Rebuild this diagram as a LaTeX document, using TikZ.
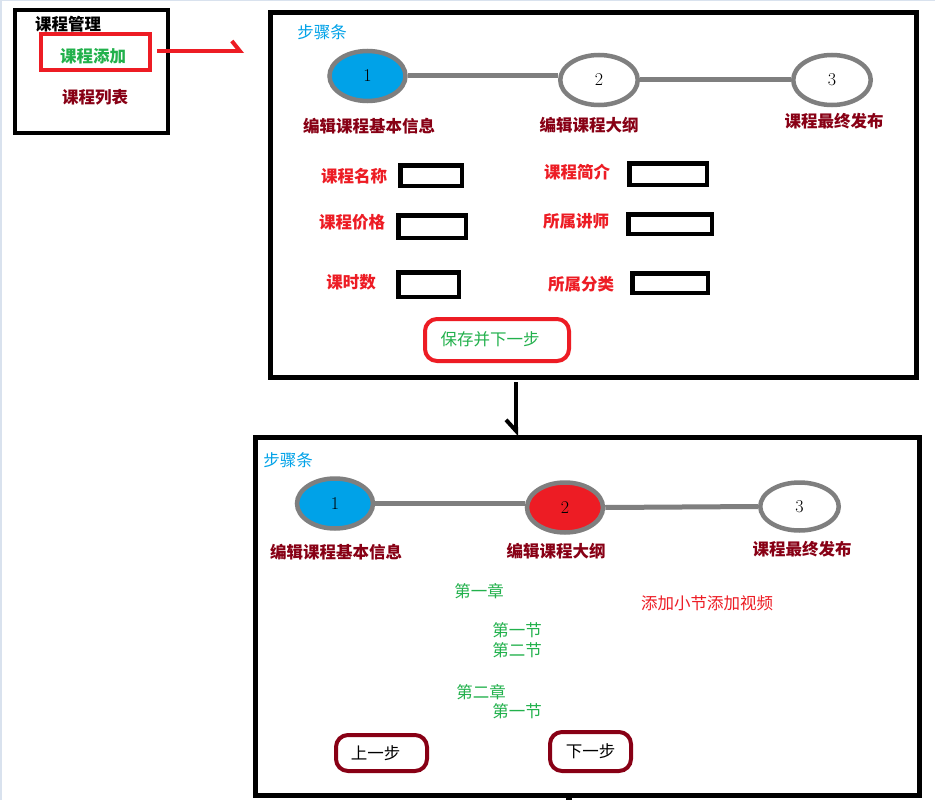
\documentclass[tikz,border=0pt]{standalone}
\usepackage{fontspec}
\usetikzlibrary{shapes.geometric, arrows.meta}
\newfontfamily\cjk{Noto Sans CJK SC}
\definecolor{stepblue}{RGB}{0,162,232}
\definecolor{stepred}{RGB}{237,28,36}
\definecolor{darkred}{RGB}{136,0,21}
\definecolor{okgreen}{RGB}{34,177,76}
\definecolor{linegrey}{RGB}{127,127,127}
\definecolor{edgeblue}{RGB}{217,226,238}

\begin{document}
\begin{tikzpicture}[x = 1pt, y = -1pt,
  txt/.style = {inner sep = 0, font = \cjk\fontsize{16.5}{18}\selectfont},
  bold/.style = {inner sep = 0, font = \cjk\bfseries\fontsize{16.5}{18}\selectfont},
  stepnode/.style = {ellipse, draw = linegrey, line width = 4.5pt, minimum width = 76pt,
    minimum height = 50pt, inner sep = 0, font = \fontsize{18}{18}\selectfont},
  field/.style = {draw, line width = 4.5pt, inner sep = 0},
  btn/.style = {draw, rounded corners = 12pt, line width = 4pt, inner sep = 0},
  link/.style = {linegrey, line width = 5pt}]
  \useasboundingbox (0, 0) rectangle (935, 800);
  \fill[white] (0, 0) rectangle (935, 800);
  \fill[edgeblue] (0, 0) rectangle (935, 1.5);
  \fill[edgeblue] (0, 0) rectangle (2, 800);

  \draw[line width = 4pt] (15, 10) rectangle (168, 133);
  \node[bold] at (68, 24) (menu) {课程管理};
  \node[field, draw = stepred, line width = 4pt, minimum width = 109pt, minimum height = 36pt] at (95.5, 52) (addbox) {};
  \node[bold, okgreen] at (93, 56) (add) {课程添加};
  \node[bold, darkred] at (95, 97) (list) {课程列表};
  \coordinate (addout) at (157, 51);
  \coordinate (addin) at (244, 51);
  \draw[stepred, line width = 4pt, -{Straight Barb[left, length = 8pt, width = 20pt]}] (addout) -- (addin);

  \draw[line width = 5pt] (270.5, 12.5) rectangle (916.5, 377.5);
  \node[txt, stepblue] at (322, 32) (bar) {步骤条};
  \node[stepnode, fill = stepblue] at (367.5, 76) (s1) {1};
  \node[stepnode, fill = white, minimum width = 77.5pt] at (599, 80) (s2) {2};
  \node[stepnode, fill = white, minimum width = 77.5pt] at (832, 80) (s3) {3};
  \draw[link] (s1.east) -- (s1.east -| s2.west);
  \draw[link] (s2.east) -- (s3.west);
  \node[bold, darkred] at (369, 126) (t1) {编辑课程基本信息};
  \node[bold, darkred] at (589, 125) (t2) {编辑课程大纲};
  \node[bold, darkred] at (834, 121) (t3) {课程最终发布};
  \foreach \i/\lx/\ly/\t/\bx/\by/\w/\h in {
    1/354/176/课程名称/431/175.5/61.5/20.5,
    2/577/172/课程简介/668/174/77.5/21.5,
    3/352/222/课程价格/432/226.5/67.5/22.5,
    4/576/221/所属讲师/670/224/83.5/19.5,
    5/351/282/课时数/428.5/284.5/60.5/24.5,
    6/581/284/所属分类/670/283/75.5/19.5}
  {
  \node[bold, stepred] at (\lx, \ly) (l\i) {\t};
  \node[field, minimum width = \w pt, minimum height = \h pt] at (\bx, \by) (f\i) {};
  }
  \node[btn, draw = stepred, minimum width = 144pt, minimum height = 42pt] at (497, 340) (save) {};
  \node[txt, okgreen] at (490, 339) (savetxt) {保存并下一步};
  \coordinate (downout) at (516, 382);
  \coordinate (downin) at (516, 436);
  \draw[line width = 4pt, -{Straight Barb[right, length = 11pt, width = 20pt]}] (downout) -- (downin);

  \draw[line width = 5pt] (255.5, 437.5) rectangle (919.5, 795.5);
  \fill (566, 797) rectangle (572, 800);
  \node[txt, stepblue] at (288, 460) (bar2) {步骤条};
  \node[stepnode, fill = stepblue] at (335, 503.5) (b1) {1};
  \node[stepnode, fill = stepred] at (565, 507.5) (b2) {2};
  \node[stepnode, fill = white, minimum width = 78.5pt, minimum height = 48pt] at (799.5, 506.5) (b3) {3};
  \draw[link] (b1.east) -- (b1.east -| b2.west);
  \draw[link] (b2.east) -- (b3.west);
  \node[bold, darkred] at (336, 552) (u1) {编辑课程基本信息};
  \node[bold, darkred] at (556, 551) (u2) {编辑课程大纲};
  \node[bold, darkred] at (802, 549) (u3) {课程最终发布};
  \node[txt, stepred] at (707, 603) (media) {添加小节添加视频};
  \node[txt, okgreen] at (479, 591) (c1) {第一章};
  \node[txt, okgreen] at (517, 630) (c11) {第一节};
  \node[txt, okgreen] at (517, 650) (c12) {第二节};
  \node[txt, okgreen] at (481, 692) (c2) {第二章};
  \node[txt, okgreen] at (517, 711) (c21) {第一节};
  \node[btn, draw = darkred, txt, minimum width = 91pt, minimum height = 36pt] at (381.5, 753) (prev) {\hspace{-12pt}上一步};
  \node[btn, draw = darkred, txt, minimum width = 81pt, minimum height = 39pt] at (590.5, 751.5) (next) {下一步};
 \end{tikzpicture}
\end{document}
